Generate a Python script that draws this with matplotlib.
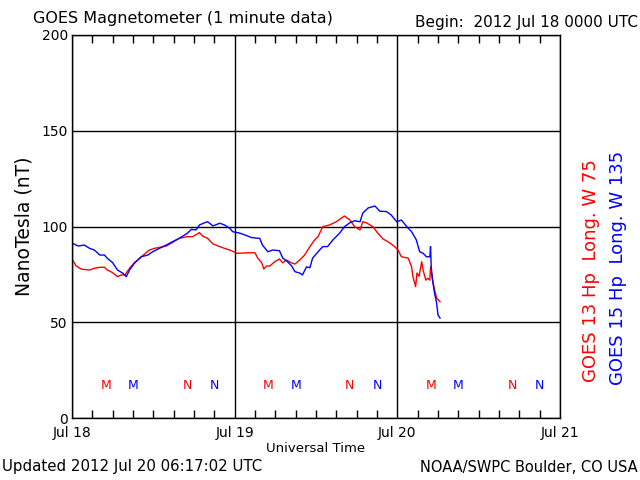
import numpy as np
import matplotlib
matplotlib.use("Agg")
import matplotlib.pyplot as plt
from matplotlib.ticker import MultipleLocator

# hours since 2012 Jul 18 00:00 UTC, field in nT
g13_hours = [0.1, 0.6, 1.4, 2.6, 3.3, 4.1, 4.8, 5.2, 6.0, 6.7, 7.3, 7.8, 8.5, 9.2,
             10.0, 10.7, 11.4, 12.2, 12.9, 13.9, 14.8, 15.8, 17.0, 17.8, 18.8, 19.3,
             20.0, 20.8, 21.8, 22.5, 23.5, 24.3, 26.2, 27.0, 27.4, 28.0, 28.3, 28.7,
             29.2, 29.9, 30.6, 31.1, 31.6, 32.4, 32.9, 33.6, 34.3, 35.1, 35.8, 36.3,
             37.0, 38.0, 39.0, 40.2, 41.0, 41.7, 42.5, 42.9, 43.4, 44.4, 45.1, 45.9,
             46.9, 47.6, 48.1, 48.6, 49.6, 50.1, 50.3, 50.7, 50.9, 51.2, 51.6, 51.8,
             52.2, 52.5, 52.8, 52.9, 53.2, 53.5, 53.8, 54.3]
g13_hp = [82.5, 79.4, 77.7, 77.3, 78.2, 78.7, 78.7, 77.3, 75.9, 73.8, 74.7, 74.7, 78.2, 81.1,
          83.4, 85.6, 87.7, 88.6, 89.1, 89.8, 91.6, 93.8, 94.7, 94.7, 96.8, 95.0,
          93.8, 90.9, 89.5, 88.6, 87.4, 86.0, 86.3, 86.3, 83.5, 81.0, 77.8, 79.4,
          79.4, 81.6, 83.0, 81.0, 82.5, 81.0, 80.4, 82.5, 85.0, 89.5, 93.0, 94.7,
          99.9, 100.8, 102.5, 105.5, 103.4, 99.9, 98.2, 102.5, 102.0, 99.9, 96.6, 93.5,
          91.4, 89.5, 87.7, 84.2, 83.5, 79.0, 73.8, 68.6, 75.7, 74.0, 81.6, 77.3,
          72.0, 73.0, 72.0, 78.9, 72.0, 66.8, 62.6, 60.7]

g15_hours = [0.1, 0.9, 1.8, 2.6, 3.3, 4.1, 4.8, 5.2, 6.0, 6.7, 7.5, 8.0, 8.5, 9.2,
             10.2, 11.2, 11.9, 12.9, 13.9, 14.8, 15.8, 17.0, 17.6, 18.3, 18.8, 19.6,
             20.0, 20.8, 21.8, 22.5, 23.3, 23.7, 24.7, 25.5, 26.5, 27.7, 28.1, 28.9,
             29.6, 30.6, 31.1, 31.8, 32.4, 32.9, 33.6, 34.0, 34.6, 35.1, 35.5, 36.3,
             37.0, 37.7, 38.5, 39.5, 40.2, 41.0, 41.7, 42.5, 42.9, 43.7, 44.7, 45.4,
             46.4, 47.1, 47.9, 48.6, 49.4, 50.1, 50.8, 51.3, 51.8, 52.3, 52.8, 52.9,
             53.0, 53.2, 53.5, 53.8, 54.0, 54.3]
g15_hp = [91.2, 89.8, 90.3, 88.6, 87.7, 85.1, 85.1, 83.4, 81.1, 77.3, 75.6, 73.8, 77.3, 80.8,
          84.2, 85.1, 86.8, 88.6, 90.3, 92.0, 93.8, 96.4, 98.5, 98.2, 100.8, 102.0,
          102.5, 100.3, 101.7, 100.8, 99.0, 97.3, 96.6, 95.6, 94.2, 93.8, 90.3, 86.8,
          87.7, 87.4, 83.5, 81.6, 79.4, 76.4, 75.7, 74.7, 78.9, 78.5, 83.5, 86.8,
          89.5, 89.5, 93.0, 96.6, 99.9, 102.0, 103.0, 102.5, 107.0, 109.7, 110.7, 108.0,
          107.8, 106.0, 102.5, 103.4, 99.9, 97.3, 93.0, 86.8, 86.0, 84.2, 84.2, 89.5,
          79.0, 72.0, 65.0, 60.0, 53.8, 52.2]

# local midnight / noon markers (hours)
g13_m = [5.0, 29.0, 53.0]
g13_n = [17.0, 41.0, 65.0]
g15_m = [9.0, 33.0, 57.0]
g15_n = [21.0, 45.0, 69.0]
marker_y = 17

day_labels = ["Jul 18", "Jul 19", "Jul 20", "Jul 21"]
y_ticks = [0, 50, 100, 150, 200]

RED = "#ff0000"
BLUE = "#0000ff"

fig = plt.figure(figsize=(6.4, 4.8), dpi=100)
ax = fig.add_axes([72 / 640, 62 / 480, 488 / 640, 383 / 480])

ax.plot(g13_hours, g13_hp, color=RED, lw=1)
ax.plot(g15_hours, g15_hp, color=BLUE, lw=1)

for h in g13_m:
    ax.text(h, marker_y, "M", color=RED, ha="center", va="center", fontsize=9)
for h in g15_m:
    ax.text(h, marker_y, "M", color=BLUE, ha="center", va="center", fontsize=9)
for h in g13_n:
    ax.text(h, marker_y, "N", color=RED, ha="center", va="center", fontsize=9)
for h in g15_n:
    ax.text(h, marker_y, "N", color=BLUE, ha="center", va="center", fontsize=9)

ax.set_xlim(0, 72)
ax.set_ylim(0, 200)
ax.set_xticks([0, 24, 48, 72])
ax.set_xticklabels(day_labels, fontsize=10)
ax.set_yticks(y_ticks)
ax.set_yticklabels([str(v) for v in y_ticks], fontsize=10)
ax.xaxis.set_minor_locator(MultipleLocator(3))
ax.tick_params(axis="x", which="major", length=0, pad=6)
ax.tick_params(axis="x", which="minor", direction="in", length=6, top=True, bottom=True, width=1)
ax.tick_params(axis="y", length=0, pad=3)
ax.grid(True, which="major", color="black", lw=1)
for s in ax.spines.values():
    s.set_linewidth(1)
ax.set_xlabel("Universal Time", fontsize=9.5, labelpad=1)
ax.set_ylabel("NanoTesla (nT)", fontsize=13.5, labelpad=6)

fig.text(33 / 640, 1 - 18 / 480, "GOES Magnetometer (1 minute data)", fontsize=11.5, ha="left", va="center")
fig.text(638 / 640, 1 - 22 / 480, "Begin:  2012 Jul 18 0000 UTC", fontsize=11, ha="right", va="center")
fig.text(2 / 640, 1 - 467 / 480, "Updated 2012 Jul 20 06:17:02 UTC", fontsize=10.8, ha="left", va="center")
fig.text(638 / 640, 1 - 467 / 480, "NOAA/SWPC Boulder, CO USA", fontsize=10.5, ha="right", va="center")

fig.text(591 / 640, 1 - 271 / 480, "GOES 13 Hp  Long. W 75", fontsize=13, color=RED,
         rotation=90, ha="center", va="center")
fig.text(618 / 640, 1 - 268 / 480, "GOES 15 Hp  Long. W 135", fontsize=13, color=BLUE,
         rotation=90, ha="center", va="center")

fig.savefig("out.png", dpi=100)
